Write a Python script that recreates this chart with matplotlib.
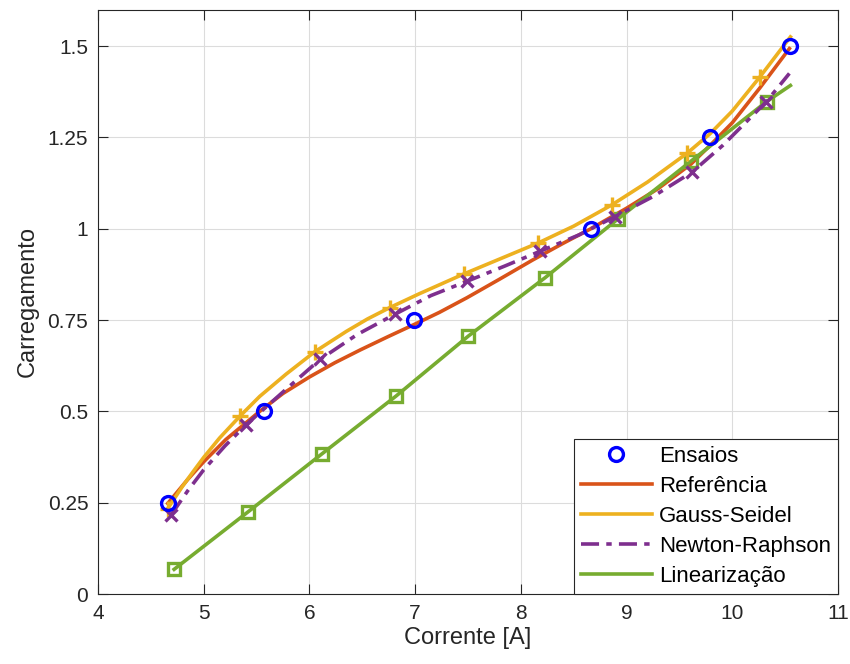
import matplotlib
matplotlib.use("Agg")
import matplotlib.pyplot as plt

plt.rcParams['font.family'] = ['Liberation Sans', 'DejaVu Sans']

# Measured points (Ensaios)
ens_x = [4.66, 5.57, 6.99, 8.66, 9.79, 10.55]
ens_y = [0.25, 0.50, 0.75, 1.00, 1.25, 1.50]

# Referência curve
ref_x = [4.66, 4.85, 5.0, 5.21, 5.53, 5.75, 6.0, 6.24, 6.48, 6.74, 7.0, 7.23, 7.49, 7.8, 8.11, 8.4, 8.65, 9.0, 9.3, 9.61, 9.79, 10.0, 10.26, 10.54]
ref_y = [0.248, 0.314, 0.362, 0.423, 0.500, 0.549, 0.594, 0.633, 0.668, 0.704, 0.739, 0.771, 0.811, 0.862, 0.914, 0.960, 0.998, 1.056, 1.110, 1.177, 1.228, 1.290, 1.385, 1.493]

# Gauss-Seidel curve and markers
gs_x = [4.66, 4.80, 4.90, 5.0, 5.15, 5.34, 5.53, 5.78, 6.05, 6.35, 6.55, 6.76, 7.04, 7.46, 7.8, 8.165, 8.5, 8.86, 9.2, 9.57, 9.79, 10.0, 10.26, 10.55]
gs_y = [0.234, 0.295, 0.335, 0.374, 0.427, 0.486, 0.541, 0.602, 0.663, 0.719, 0.753, 0.784, 0.822, 0.876, 0.917, 0.961, 1.007, 1.065, 1.128, 1.206, 1.260, 1.322, 1.415, 1.525]
gs_mx = [4.66, 5.34, 6.05, 6.76, 7.46, 8.165, 8.86, 9.57, 10.26]
gs_my = [0.234, 0.486, 0.663, 0.784, 0.876, 0.961, 1.065, 1.206, 1.415]

# Newton-Raphson curve and markers
nr_x = [4.69, 4.85, 5.0, 5.2, 5.40, 5.75, 6.10, 6.45, 6.81, 7.15, 7.49, 7.85, 8.18, 8.55, 8.89, 9.25, 9.62, 9.91, 10.32, 10.54]
nr_y = [0.216, 0.283, 0.340, 0.405, 0.463, 0.553, 0.642, 0.710, 0.766, 0.817, 0.856, 0.898, 0.938, 0.983, 1.033, 1.088, 1.155, 1.228, 1.347, 1.425]
nr_mx = [4.69, 5.40, 6.10, 6.81, 7.49, 8.18, 8.89, 9.62, 10.32]
nr_my = [0.216, 0.463, 0.642, 0.766, 0.856, 0.938, 1.033, 1.155, 1.347]

# Linearização curve and markers
lin_x = [4.72, 5.42, 6.12, 6.82, 7.503, 8.23, 8.92, 9.61, 10.325, 10.55]
lin_y = [0.0675, 0.225, 0.384, 0.542, 0.706, 0.866, 1.027, 1.185, 1.348, 1.392]
lin_mx = [4.72, 5.42, 6.12, 6.82, 7.503, 8.23, 8.92, 9.61, 10.325]
lin_my = [0.0675, 0.225, 0.384, 0.542, 0.706, 0.866, 1.027, 1.185, 1.348]

xticks = [4, 5, 6, 7, 8, 9, 10, 11]
yticks = [0, 0.25, 0.5, 0.75, 1, 1.25, 1.5]
ytick_labels = ['0', '0.25', '0.5', '0.75', '1', '1.25', '1.5']

c_blue = (0, 0, 1)
c_ref = '#D95319'
c_gs = '#EDB120'
c_nr = '#7E2F8E'
c_lin = '#77AC30'

fig = plt.figure(figsize=(8.5, 6.64), dpi=100)
ax = fig.add_axes([98/850, 1-594/664, (838-98)/850, (594-9.5)/664])

lw = 2.6
h_ens, = ax.plot(ens_x, ens_y, 'o', color=c_blue, mfc='none', mew=2.4, ms=10, label='Ensaios', zorder=6)
h_ref, = ax.plot(ref_x, ref_y, '-', color=c_ref, lw=lw, label='Referência', zorder=3)
h_gs, = ax.plot(gs_x, gs_y, '-', color=c_gs, lw=lw, label='Gauss-Seidel', zorder=4)
ax.plot(gs_mx, gs_my, '+', color=c_gs, ms=11, mew=2.4, zorder=4)
h_nr, = ax.plot(nr_x, nr_y, '-.', color=c_nr, lw=lw, label='Newton-Raphson', zorder=5,
                dashes=(5, 2, 1.5, 2))
ax.plot(nr_mx, nr_my, 'x', color=c_nr, ms=8.5, mew=2.4, zorder=5)
h_lin, = ax.plot(lin_x, lin_y, '-', color=c_lin, lw=lw, label='Linearização', zorder=3)
ax.plot(lin_mx, lin_my, 's', color=c_lin, mfc='none', ms=8.5, mew=2.4, zorder=3)

ax.set_xlim(4, 11)
ax.set_ylim(0, 1.6)
ax.set_xticks(xticks)
ax.set_yticks(yticks)
ax.set_yticklabels(ytick_labels)
ax.tick_params(direction='in', length=7, width=0.8, top=True, right=True,
               labelsize=15, colors='#262626', pad=7)
ax.grid(True, color='#dcdcdc', lw=0.8)
ax.set_axisbelow(True)
for s in ax.spines.values():
    s.set_color('#262626')
    s.set_linewidth(0.8)

ax.set_xlabel('Corrente [A]', fontsize=17, color='#262626', labelpad=3)
ax.set_ylabel('Carregamento', fontsize=17, color='#262626', labelpad=6)

leg = ax.legend(handles=[h_ens, h_ref, h_gs, h_nr, h_lin], loc='lower right',
                bbox_to_anchor=(1.0, 0.0), fontsize=16, handlelength=3.2,
                handletextpad=0.3, labelspacing=0.40, borderaxespad=0.0,
                fancybox=False, framealpha=1, edgecolor='#262626', borderpad=0.33)
leg.get_frame().set_linewidth(0.8)

fig.savefig('out.png', dpi=100)
